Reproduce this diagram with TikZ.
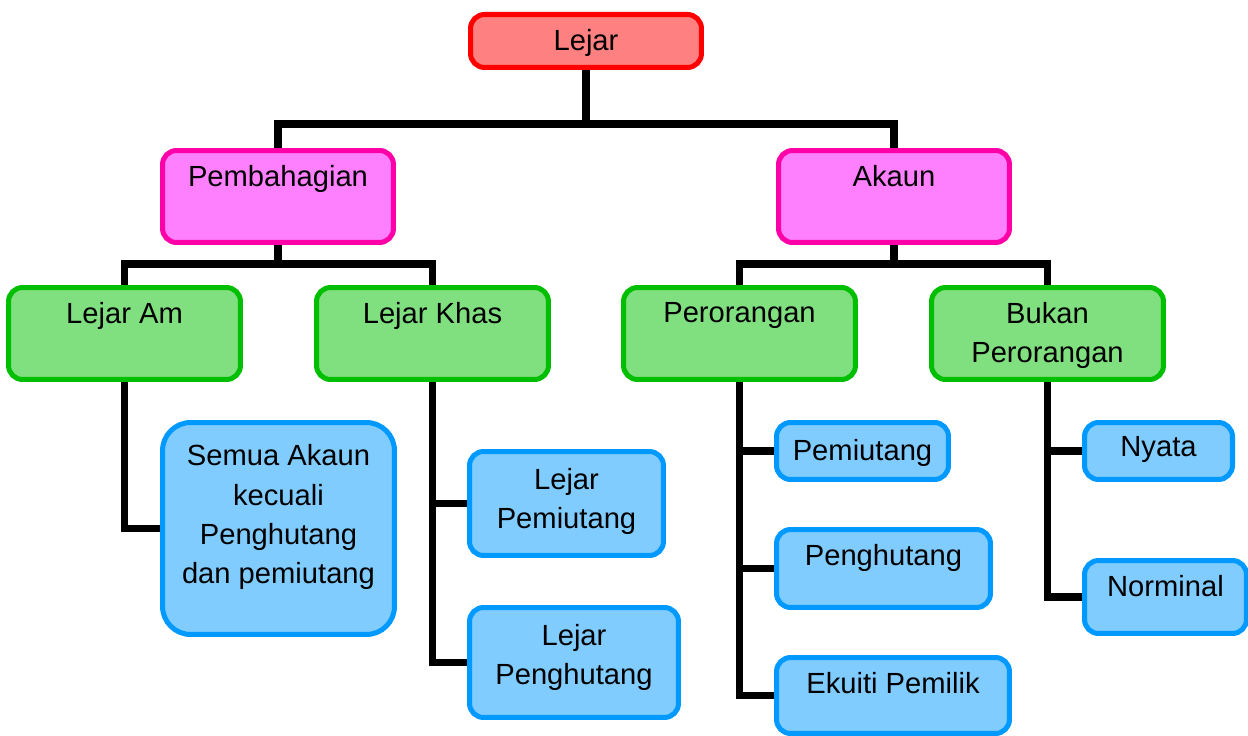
\documentclass[tikz,border=0pt]{standalone}
\usepackage{fontspec}
\setmainfont{Liberation Sans}
\usetikzlibrary{positioning, backgrounds}
\definecolor{rootline}{HTML}{FF0000}
\definecolor{rootfill}{HTML}{FF8080}
\definecolor{pinkline}{HTML}{FF00A8}
\definecolor{pinkfill}{HTML}{FF80FF}
\definecolor{greenline}{HTML}{00BE00}
\definecolor{greenfill}{HTML}{80E080}
\definecolor{blueline}{HTML}{0099FF}
\definecolor{bluefill}{HTML}{80CCFF}
\newcommand{\boxfont}{\fontsize{16.6pt}{22.2pt}\selectfont}
\tikzset{
  box/.style={rectangle, rounded corners=8pt, line width=2.85pt, inner sep=0pt},
  rootbox/.style={box, draw=rootline, fill=rootfill},
  pinkbox/.style={box, draw=pinkline, fill=pinkfill, minimum width=4.62cm, minimum height=1.84cm},
  greenbox/.style={box, draw=greenline, fill=greenfill, minimum width=4.64cm, minimum height=1.84cm},
  bluebox/.style={box, draw=blueline, fill=bluefill},
  boxtext/.style={anchor=north, inner sep=0pt, align=center, font=\boxfont, yshift=-0.35cm},
  conn/.style={line width=4pt, black}
}
\begin{document}
\begin{tikzpicture}[x=0.02cm, y=-0.02cm]
\useasboundingbox (0,0) rectangle (1248,736);
%top
\node[rootbox, minimum width=4.62cm, minimum height=1.06cm,
  label={[boxtext, yshift=0.01cm]north:Lejar}] (lejar) at (586,41) {};
%second level
\node[pinkbox, label={[boxtext]north:Pembahagian}] (pembahagian) at (278,196.5) {};
\node[pinkbox, label={[boxtext]north:Akaun}] (akaun) at (894,196.5) {};
%third level
\node[greenbox, label={[boxtext]north:Lejar Am}] (lejaram) at (124.5,333.5) {};
\node[greenbox, label={[boxtext]north:Lejar Khas}] (lejarkhas) at (432.5,333.5) {};
\node[greenbox, label={[boxtext]north:Perorangan}] (perorangan) at (739.5,333.5) {};
\node[greenbox, label={[boxtext]north:Bukan\\Perorangan}] (bukan) at (1047.5,333.5) {};
%leaves
\node[bluebox, rounded corners=16pt, minimum width=4.64cm, minimum height=4.24cm,
  label={[boxtext, yshift=-0.14cm]north:Semua Akaun\\kecuali\\Penghutang\\dan pemiutang}] (semua) at (278.5,528.5) {};
\node[bluebox, minimum width=3.88cm, minimum height=2.08cm,
  label={[boxtext, yshift=-0.04cm]north:Lejar\\Pemiutang}] (lpemiutang) at (566.5,503.5) {};
\node[bluebox, minimum width=4.18cm, minimum height=2.2cm,
  label={[boxtext, yshift=-0.04cm]north:Lejar\\Penghutang}] (lpenghutang) at (574,662.5) {};
\node[bluebox, minimum width=3.44cm, minimum height=1.14cm,
  label={[boxtext, yshift=-0.04cm]north:Pemiutang}] (pemiutang) at (862.5,451) {};
\node[bluebox, minimum width=4.28cm, minimum height=1.56cm,
  label={[boxtext]north:Penghutang}] (penghutang) at (883.5,568.5) {};
\node[bluebox, minimum width=4.66cm, minimum height=1.52cm,
  label={[boxtext]north:Ekuiti Pemilik}] (ekuiti) at (893,695.5) {};
\node[bluebox, minimum width=2.96cm, minimum height=1.14cm,
  label={[boxtext, yshift=0.02cm]north:Nyata}] (nyata) at (1158.5,451) {};
\node[bluebox, minimum width=3.24cm, minimum height=1.46cm,
  label={[boxtext]north:Norminal}] (norminal) at (1165.5,597) {};
%connectors
\coordinate (split1) at (586,124);
\coordinate (split2) at (278,264);
\coordinate (split3) at (894,264);
\begin{scope}[on background layer]
\draw[conn] (lejar.south) -- (split1);
\draw[conn] (pembahagian.north) |- (split1) -| (akaun.north);
\draw[conn] (pembahagian.south) -- (split2);
\draw[conn] (lejaram.north) |- (split2) -| (lejarkhas.north);
\draw[conn] (akaun.south) -- (split3);
\draw[conn] (perorangan.north) |- (split3) -| (bukan.north);
\draw[conn] (lejaram.south) |- (semua.west);
\draw[conn] (lejarkhas.south) |- (lpemiutang.west);
\draw[conn] (lejarkhas.south) |- (lpenghutang.west);
\draw[conn] (perorangan.south) |- (pemiutang.west);
\draw[conn] (perorangan.south) |- (penghutang.west);
\draw[conn] (perorangan.south) |- (ekuiti.west);
\draw[conn] (bukan.south) |- (nyata.west);
\draw[conn] (bukan.south) |- (norminal.west);
\end{scope}
\end{tikzpicture}
\end{document}
